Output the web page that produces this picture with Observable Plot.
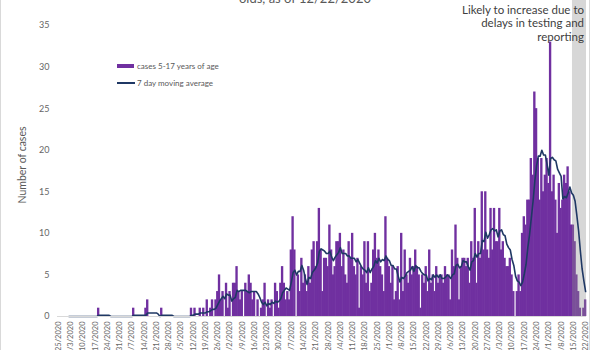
<!DOCTYPE html>
<html>
<head>
<meta charset="utf-8">
<script src="https://cdn.jsdelivr.net/npm/d3@7"></script>
<script src="https://cdn.jsdelivr.net/npm/@observablehq/plot@0.6"></script>
<style>
  html, body { margin: 0; padding: 0; background: #fff; overflow: hidden; }
  body { width: 600px; height: 350px; position: relative; font-family: Lato, "Open Sans", sans-serif; }
  #frame { position: absolute; left: 0; top: -10px; width: 590px; height: 400px; border: 1px solid #d9d9d9; box-sizing: border-box; }
  #chart { position: absolute; left: 0; top: 0; }
  #title { position: absolute; left: 0; width: 610px; top: -8px; text-align: center; font-size: 13px; line-height: 13px; color: #595959; white-space: nowrap; }
  #note { position: absolute; left: 0; width: 584px; top: 3px; text-align: right; font-size: 11.5px; line-height: 13.4px; color: #404040; }
  .leg { position: absolute; font-size: 8px; color: #595959; white-space: nowrap; }
  .sw { position: absolute; }
  svg [aria-label*="x-axis"] text { font-size: 7.5px; fill: #666; }
  svg [aria-label*="y-axis"] text { font-size: 9px; fill: #666; }
</style>
</head>
<body>
<div id="frame"></div>
<div id="chart"></div>
<div id="title"></div>
<div id="note"></div>
<div id="legend"></div>
<script>
// ---- data ----
const startDate = "2/25/2020";
// daily cases, one value per day from 2/25/2020 to 12/22/2020 (7 per row = one week)
const dailyCases = [
  0,0,0,0,0,0,0,
  0,0,0,0,0,0,0,
  0,0,0,0,0,0,0,
  0,0,1,0,0,0,0,
  0,0,0,0,0,0,0,
  0,0,0,0,0,0,0,
  0,1,0,0,0,0,0,
  0,1,2,0,0,0,0,
  0,0,0,1,0,0,0,
  0,0,0,0,0,0,0,
  0,0,0,0,0,0,1,
  0,1,0,0,1,0,1,
  0,2,0,1,2,0,2,
  3,5,2,3,0,4,1,
  3,0,4,4,6,3,2,
  3,0,4,3,5,4,2,
  3,0,2,0,1,2,4,
  0,2,1,2,0,4,3,
  1,4,6,4,2,3,2,
  8,12,8,0,5,3,7,
  4,5,3,6,4,8,9,
  6,9,13,8,3,7,7,
  6,11,8,5,6,9,9,
  10,6,8,5,4,9,7,
  10,6,5,7,1,6,5,
  9,4,9,3,4,8,10,
  7,8,6,5,3,12,7,
  6,4,6,2,3,6,2,
  10,3,8,5,4,7,5,
  6,8,6,5,1,5,4,
  6,3,8,4,5,3,6,
  4,5,5,4,6,5,5,
  2,8,6,11,7,2,6,
  7,7,6,7,4,9,7,
  13,4,9,7,15,8,15,
  8,7,13,8,13,9,9,
  13,8,9,7,6,6,7,
  5,3,0,3,5,3,10,
  12,11,14,14,19,17,27,
  25,19,14,19,15,17,19,
  16,33,15,17,14,10,16,
  13,14,17,16,18,15,11,
  11,9,5,3,1,0,1,
  2
];
const tickLabels = ["2/25/2020","3/3/2020","3/10/2020","3/17/2020","3/24/2020","3/31/2020","4/7/2020","4/14/2020","4/21/2020","4/28/2020","5/5/2020","5/12/2020","5/19/2020","5/26/2020","6/2/2020","6/9/2020","6/16/2020","6/23/2020","6/30/2020","7/7/2020","7/14/2020","7/21/2020","7/28/2020","8/4/2020","8/11/2020","8/18/2020","8/25/2020","9/1/2020","9/8/2020","9/15/2020","9/22/2020","9/29/2020","10/6/2020","10/13/2020","10/20/2020","10/27/2020","11/3/2020","11/10/2020","11/17/2020","11/24/2020","12/1/2020","12/8/2020","12/15/2020","12/22/2020"];
const yTicks = [0, 5, 10, 15, 20, 25, 30, 35];
const shadedDates = ["12/15/2020", "12/22/2020"];
const seriesNames = ["cases 5-17 years of age", "7 day moving average"];
const seriesColors = ["#7030A0", "#1F3864"];
const annotationLines = ["Likely to increase due to", "delays in testing and", "reporting"];
const titleText = "olds, as of 12/22/2020";
const yLabel = "Number of cases";

// ---- build ----
const parseMDY = s => { const [m, d, y] = s.split("/").map(Number); return new Date(Date.UTC(y, m - 1, d)); };
const start = parseMDY(startDate);
const data = dailyCases.map((value, i) => ({date: d3.utcDay.offset(start, i), value}));
const tickDates = tickLabels.map(parseMDY);
const labelOf = new Map(tickDates.map((d, i) => [+d, tickLabels[i]]));
const half = d => d3.utcHour.offset(d, -12);
const halfAfter = d => d3.utcHour.offset(d, 12);
const shade = [{x1: half(parseMDY(shadedDates[0])), x2: halfAfter(parseMDY(shadedDates[1]))}];

const chart = Plot.plot({
  width: 600,
  height: 350,
  marginLeft: 57,
  marginRight: 14,
  marginTop: 25,
  marginBottom: 34,
  style: {fontFamily: "Lato, 'Open Sans', sans-serif", background: "transparent", overflow: "visible"},
  x: {
    type: "utc",
    domain: [half(data[0].date), halfAfter(data[data.length - 1].date)],
    ticks: tickDates,
    tickFormat: d => labelOf.get(+d),
    tickRotate: -90,
    tickSize: 0,
    tickPadding: 5,
    label: null
  },
  y: {domain: [0, 35], ticks: yTicks, tickSize: 0, tickPadding: 8, label: null},
  marks: [
    Plot.rectY(data, {x1: d => half(d.date), x2: d => halfAfter(d.date), y: "value", fill: seriesColors[0], insetLeft: -0.3, insetRight: -0.3}),
    Plot.rect(shade, {x1: "x1", x2: "x2", fill: "#8c8c8c", fillOpacity: 0.35, insetTop: -25}),
    Plot.lineY(data, Plot.windowY({k: 7, anchor: "end", reduce: "mean", strict: true}, {x: "date", y: "value", stroke: seriesColors[1], strokeWidth: 1.6})),
    Plot.ruleY([0], {stroke: "#d9d9d9", strokeWidth: 1}),
    Plot.text([yLabel], {frameAnchor: "left", textAnchor: "middle", rotate: -90, dx: -35, dy: -6, fontSize: 10.5, fill: "#595959"})
  ]
});
document.getElementById("chart").appendChild(chart);

document.getElementById("title").textContent = titleText;
document.getElementById("note").innerHTML = annotationLines.map(s => `<div>${s}</div>`).join("");

const legend = document.getElementById("legend");
const legendRows = [{top: 66, h: 4.5, w: 17}, {top: 83, h: 1.6, w: 18}];
seriesNames.forEach((name, i) => {
  const sw = document.createElement("div");
  sw.className = "sw";
  sw.style.cssText = `left:117px;top:${legendRows[i].top - legendRows[i].h / 2}px;width:${legendRows[i].w}px;height:${legendRows[i].h}px;background:${seriesColors[i]}`;
  legend.appendChild(sw);
  const t = document.createElement("div");
  t.className = "leg";
  t.style.cssText = `left:137px;top:${legendRows[i].top - 6}px;line-height:12px`;
  t.textContent = name;
  legend.appendChild(t);
});
</script>
</body>
</html>
